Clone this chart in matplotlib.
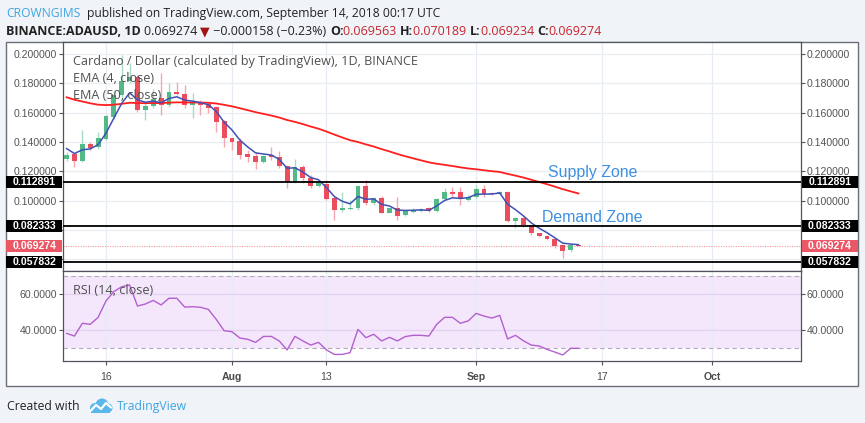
import matplotlib
matplotlib.use('Agg')
import matplotlib.pyplot as plt
import matplotlib.transforms as mtransforms
from matplotlib.patches import Rectangle, Circle
from matplotlib.ticker import FuncFormatter
import numpy as np
import pandas as pd

# ---------------- data ----------------
dates = pd.date_range('2018-07-11', '2018-09-14', freq='D')   # 66 daily candles

opens = [0.1282, 0.1320, 0.1270, 0.1383, 0.1367, 0.1420, 0.1573, 0.1718, 0.1814, 0.1843,
         0.1616, 0.1645, 0.1700, 0.1650, 0.1741, 0.1730, 0.1652, 0.1672, 0.1657, 0.1641,
         0.1543, 0.1425, 0.1405, 0.1317, 0.1305, 0.1265, 0.1311, 0.1300, 0.1239, 0.1130,
         0.1228, 0.1153, 0.1100, 0.1114, 0.1016, 0.0936, 0.0942, 0.0947, 0.1100, 0.0986,
         0.1016, 0.0917, 0.0947, 0.0901, 0.0924, 0.0929, 0.0947, 0.0929, 0.1009, 0.1057,
         0.1057, 0.1004, 0.1027, 0.1078, 0.1055, 0.1046, 0.1062, 0.0860, 0.0883, 0.0833,
         0.0776, 0.0760, 0.0735, 0.0700, 0.0663, 0.069563]
highs = [0.1330, 0.1328, 0.1480, 0.1403, 0.1470, 0.1584, 0.1755, 0.1991, 0.1940, 0.1860,
         0.1680, 0.1760, 0.1870, 0.1800, 0.1812, 0.1789, 0.1736, 0.1686, 0.1675, 0.1645,
         0.1548, 0.1430, 0.1425, 0.1345, 0.1334, 0.1312, 0.1369, 0.1341, 0.1244, 0.1283,
         0.1244, 0.1176, 0.1142, 0.1142, 0.1027, 0.1062, 0.1004, 0.1107, 0.1142, 0.1027,
         0.1032, 0.0952, 0.1027, 0.0936, 0.0947, 0.0952, 0.0957, 0.1016, 0.1084, 0.1096,
         0.1096, 0.1037, 0.1107, 0.1107, 0.1062, 0.1068, 0.1068, 0.0890, 0.0890, 0.0833,
         0.0780, 0.0765, 0.0742, 0.0702, 0.0702, 0.070189]
lows = [0.1268, 0.1230, 0.1262, 0.1344, 0.1355, 0.1412, 0.1560, 0.1708, 0.1800, 0.1605,
        0.1550, 0.1632, 0.1585, 0.1640, 0.1718, 0.1629, 0.1561, 0.1584, 0.1595, 0.1470,
        0.1364, 0.1345, 0.1287, 0.1265, 0.1213, 0.1255, 0.1277, 0.1221, 0.1085, 0.1119,
        0.1119, 0.1085, 0.1096, 0.1004, 0.0867, 0.0924, 0.0936, 0.0936, 0.0970, 0.0970,
        0.0913, 0.0913, 0.0867, 0.0892, 0.0917, 0.0924, 0.0922, 0.0924, 0.1004, 0.1027,
        0.0970, 0.0997, 0.1016, 0.1027, 0.1037, 0.1037, 0.0855, 0.0810, 0.0821, 0.0764,
        0.0753, 0.0730, 0.0680, 0.0606, 0.0650, 0.069234]
closes = [0.1314, 0.1270, 0.1385, 0.1362, 0.1424, 0.1577, 0.1718, 0.1814, 0.1843, 0.1616,
          0.1645, 0.1691, 0.1650, 0.1741, 0.1725, 0.1652, 0.1668, 0.1652, 0.1634, 0.1539,
          0.1425, 0.1402, 0.1310, 0.1295, 0.1265, 0.1307, 0.1300, 0.1237, 0.1130, 0.1228,
          0.1153, 0.1100, 0.1119, 0.1009, 0.0936, 0.0947, 0.0952, 0.1103, 0.0981, 0.1016,
          0.0917, 0.0947, 0.0894, 0.0929, 0.0936, 0.0940, 0.0929, 0.1009, 0.1057, 0.1046,
          0.1009, 0.1027, 0.1078, 0.1046, 0.1046, 0.1062, 0.0860, 0.0883, 0.0833, 0.0776,
          0.0758, 0.0735, 0.0693, 0.0656, 0.069432, 0.069274]
rsi = [38.3, 36.8, 43.9, 43.3, 47.2, 56.3, 61.5, 64.2, 65.2, 53.5,
       54.6, 56.6, 54.1, 57.8, 57.8, 52.9, 53.1, 52.8, 51.6, 46.1,
       39.8, 39.2, 35.7, 35.0, 33.3, 36.6, 36.6, 34.1, 29.1, 36.6,
       34.1, 31.8, 33.3, 29.1, 26.6, 26.6, 27.6, 40.5, 35.9, 37.8,
       34.1, 36.1, 34.1, 36.5, 37.2, 37.2, 36.8, 43.3, 47.2, 47.2,
       43.9, 45.2, 49.4, 47.9, 46.8, 48.3, 35.2, 37.2, 34.2, 31.8,
       31.3, 29.4, 27.9, 26.3, 30.0, 30.0]

ema4_start = 0.1355      # EMA values on the first visible day
ema50_start = 0.1705

tick_dates = ['2018-07-16', '2018-08-01', '2018-08-13', '2018-09-01', '2018-09-17', '2018-10-01']
tick_labels = ['16', 'Aug', '13', 'Sep', '17', 'Oct']
tick_bold = [False, True, False, True, False, True]

supply_level = 0.112891
demand_level = 0.082333
low_level = 0.057832
last_price = 0.069274
price_change = -0.000158
price_change_pct = -0.23
price_ticks = [0.06, 0.08, 0.10, 0.12, 0.14, 0.16, 0.18, 0.20]
rsi_ticks = [40, 60]
rsi_band = [30, 70]

# ---------------- helpers ----------------
W, H, DPI = 865, 423, 100
UP, DOWN = '#53b987', '#eb4d5c'
UP_W, DOWN_W = '#a9dcc3', '#f5a6ae'
TXT = '#4a4a4a'
BLUE_TXT = '#3d8fe0'

plt.rcParams['font.family'] = ['Liberation Sans', 'DejaVu Sans']

def ema(vals, start, span):
    a = 2.0 / (span + 1)
    out = [start]
    for v in vals[1:]:
        out.append(out[-1] + a * (v - out[-1]))
    return np.array(out)

x = np.array([(d - dates[0]).days for d in dates])
tick_x = [(pd.Timestamp(t) - dates[0]).days for t in tick_dates]
o, h, l, c = map(np.array, (opens, highs, lows, closes))

fig = plt.figure(figsize=(W / DPI, H / DPI), dpi=DPI, facecolor='#f0f3f7')
renderer = fig.canvas.get_renderer()

def fbox(x0, y0, x1, y1):
    return [x0 / W, 1 - y1 / H, (x1 - x0) / W, (y1 - y0) / H]

def text_w(txt, **kw):
    t1 = fig.text(0, 0, txt + '|', **kw)
    t2 = fig.text(0, 0, '|', **kw)
    w = t1.get_window_extent(renderer).width - t2.get_window_extent(renderer).width
    t1.remove()
    t2.remove()
    return w

def fit_size(text, family, target_px, weight='normal', ref=10.0):
    return ref * target_px / text_w(text, fontsize=ref, family=family, fontweight=weight)

# outer white frame
fig.add_artist(Rectangle((6 / W, 1 - 386 / H), 852 / W, 344 / H, transform=fig.transFigure,
                         facecolor='white', edgecolor='#6b6e78', lw=1.0, zorder=-5))

# pixel layout
X0_PX, DAY_PX = 66.6, 7.875
xlim = ((63 - X0_PX) / DAY_PX, (801 - X0_PX) / DAY_PX)
PX_PER_UNIT = 1466.0
ylim = (0.2 - (271 - 54) / PX_PER_UNIT, 0.2 + (54 - 42) / PX_PER_UNIT)

ax = fig.add_axes(fbox(63, 42, 801, 271))
ax2 = fig.add_axes(fbox(63, 271, 801, 361))

for a_ in (ax, ax2):
    a_.set_facecolor('white')
    for s in a_.spines.values():
        s.set_color('#50535e')
        s.set_linewidth(0.9)
    a_.set_xticks(tick_x)
    a_.grid(True, axis='x', color='#e6ecf4', lw=0.9, zorder=0)
    a_.set_axisbelow(True)

# ---------------- main panel ----------------
ax.set_yticks(price_ticks)
ax.grid(True, axis='y', color='#e9eef5', lw=0.9, zorder=0)
ax.yaxis.set_major_formatter(FuncFormatter(lambda v, p: f'{v:.6f}' if v > 0.09 else ''))
ax.tick_params(axis='y', left=True, right=True, labelleft=True, labelright=True,
               direction='out', length=2.6, width=0.8, color='#50535e',
               labelsize=7.6, labelcolor='#555555', pad=1.5)
ax.tick_params(axis='x', length=0, labelbottom=False)

up = c >= o
wick_cols = np.where(up, UP_W, DOWN_W)
body_cols = np.where(up, UP, DOWN)
ax.vlines(x, l, h, colors=wick_cols, lw=1.0, zorder=3)
body_bottom = np.minimum(o, c)
body_h = np.maximum(np.abs(c - o), 0.00025)
ax.bar(x, body_h, bottom=body_bottom, width=0.62, color=body_cols, lw=0, zorder=4)

ax.plot(x, ema(closes, ema50_start, 50), color='#ff1f1f', lw=1.3, zorder=5)
ax.plot(x, ema(closes, ema4_start, 4), color='#3f51b5', lw=1.1, zorder=5)

for lv in (supply_level, demand_level, low_level):
    ax.axhline(lv, color='black', lw=1.3, zorder=6)
ax.axhline(last_price, color='#f19aa4', lw=0.8, ls=(0, (1, 1.2)), zorder=2)

sup_x = (548 - X0_PX) / DAY_PX
dem_x = (541.7 - X0_PX) / DAY_PX
ax.text(sup_x, 0.2 - (176.7 - 54) / PX_PER_UNIT, 'Supply Zone', fontsize=11.4,
        color=BLUE_TXT, va='baseline', ha='left', zorder=7)
ax.text(dem_x, 0.2 - (221.7 - 54) / PX_PER_UNIT, 'Demand Zone', fontsize=11.4,
        color=BLUE_TXT, va='baseline', ha='left', zorder=7)

ax.set_xlim(*xlim)
ax.set_ylim(*ylim)

# price boxes on both axes
blend = mtransforms.blended_transform_factory(fig.transFigure, ax.transData)
box_h = 12.0 / PX_PER_UNIT
for lv, face in ((supply_level, 'black'), (demand_level, 'black'),
                 (last_price, '#ec5766'), (low_level, 'black')):
    for x0p, x1p in ((6, 62.5), (801.5, 858)):
        fig.add_artist(Rectangle((x0p / W, lv - box_h / 2), (x1p - x0p) / W, box_h,
                                 transform=blend, facecolor=face, edgecolor='none', zorder=5))
        fig.add_artist(plt.Text((x0p + x1p) / 2 / W, lv, f'{lv:.6f}', transform=blend,
                                color='white', fontsize=7.6, fontweight='bold',
                                ha='center', va='center', zorder=6))

# legend text in the main panel
title_fam = ['Open Sans', 'DejaVu Sans']
title_txt = 'Cardano / Dollar (calculated by TradingView), 1D, BINANCE'
ts = fit_size(title_txt, title_fam, 344)
for txt, base in ((title_txt, 65), ('EMA (4, close)', 81.5), ('EMA (50, close)', 99)):
    fig.text(73.3 / W, 1 - base / H, txt, fontsize=ts, family=title_fam, color='#505050',
             va='baseline', ha='left', zorder=8)

# ---------------- RSI panel ----------------
RSI_PX = 1.8
ax2.set_ylim(70 - (361 - 276.3) / RSI_PX, 70 + (276.3 - 271) / RSI_PX)
ax2.set_xlim(*xlim)
ax2.axhspan(rsi_band[0], rsi_band[1], color='#f4e7fc', lw=0, zorder=0.5)
for lv in rsi_band:
    ax2.axhline(lv, color='#b8a9c2', lw=0.8, ls=(0, (4, 3)), zorder=1)
ax2.set_yticks(rsi_ticks)
ax2.grid(True, axis='y', color='#e4d2f0', lw=0.9, zorder=0.8)
ax2.yaxis.set_major_formatter(FuncFormatter(lambda v, p: f'{v:.4f}'))
ax2.tick_params(axis='y', left=True, right=True, labelleft=True, labelright=True,
                direction='out', length=2.6, width=0.8, color='#50535e',
                labelsize=7.6, labelcolor='#555555', pad=1.5)
ax2.plot(x, rsi, color='#b35fcf', lw=1.0, zorder=3)
ax2.set_xticklabels(tick_labels)
for lbl, b in zip(ax2.get_xticklabels(), tick_bold):
    lbl.set_fontweight('bold' if b else 'normal')
ax2.tick_params(axis='x', direction='out', length=2.6, width=0.8, color='#50535e',
                labelsize=7.6, labelcolor=TXT, pad=5)
fig.text(73.3 / W, 1 - 293.5 / H, 'RSI (14, close)', fontsize=ts, family=title_fam,
         color='#505050', va='baseline', ha='left', zorder=8)

# ---------------- header ----------------
hfam = ['Open Sans', 'DejaVu Sans']
line1 = 'published on TradingView.com, September 14, 2018 00:17 UTC'
hs = fit_size(line1, hfam, 354)
fig.text(6 / W, 1 - 16.7 / H, 'CROWNGIMS', fontsize=hs, family=hfam, color='#3ea5e2',
         va='baseline', ha='left')
fig.text(87.3 / W, 1 - 16.7 / H, line1,
         fontsize=hs, family=hfam, color='#222222', va='baseline', ha='left')

red_val = '#c6262e'
dark = '#222222'
runs = [('BINANCE:ADAUSD, 1D ', dark, 'bold'),
        (f'{last_price:.6f} ', dark, 'normal'),
        ('\u25BC', '#a31515', 'normal'),
        (f' {price_change:.6f} ({price_change_pct:.2f}%) '.replace('-', '\u2212'), dark, 'normal'),
        ('O:', dark, 'bold'), (f'{opens[-1]:.6f} ', red_val, 'normal'),
        ('H:', dark, 'bold'), (f'{highs[-1]:.6f} ', red_val, 'normal'),
        ('L:', dark, 'bold'), (f'{lows[-1]:.6f} ', red_val, 'normal'),
        ('C:', dark, 'bold'), (f'{closes[-1]:.6f}', red_val, 'normal')]
widths = [text_w(t, fontsize=10, family=hfam, fontweight=wt) for t, _, wt in runs]
hs2 = 10 * 596.0 / sum(widths)
xp = 6.0
for (txt, col, wt), w10 in zip(runs, widths):
    fig.text(xp / W, 1 - 35 / H, txt, fontsize=hs2, family=hfam, color=col,
             fontweight=wt, va='baseline', ha='left')
    xp += w10 * hs2 / 10

# ---------------- footer ----------------
fs = fit_size('Created with', hfam, 73)
fig.text(6.6 / W, 1 - 410 / H, 'Created with', fontsize=fs, family=hfam, color='#222222',
         va='baseline', ha='left')
fig.text(117 / W, 1 - 410 / H, 'TradingView', fontsize=fs, family=hfam, color='#3ea5e2',
         va='baseline', ha='left')
lax = fig.add_axes(fbox(88, 397, 113, 414))
lax.set_xlim(0, 25)
lax.set_ylim(0, 17)
lax.axis('off')
for cx, cy, r in ((7, 6, 5), (14, 9, 6.5), (20, 6, 4.5)):
    lax.add_patch(Circle((cx, cy), r, color='#5ab7ea', lw=0))
lax.add_patch(Rectangle((3, 1.2), 19, 5, color='#5ab7ea', lw=0))
lax.plot([3, 8, 13, 18, 23], [3.5, 9, 5, 11, 6.5], color='white', lw=1.6,
         solid_capstyle='round')

fig.savefig('out.png', dpi=DPI, facecolor=fig.get_facecolor())
